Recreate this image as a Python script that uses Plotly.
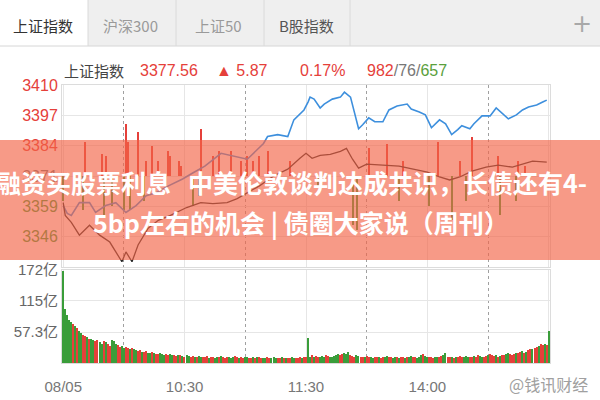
import plotly.graph_objects as go

# ---------------- data ----------------
PREV_CLOSE = 3371.69          # 昨收
LAST = 3377.56
CHANGE = 5.87
CHANGE_PCT = "0.17%"
ADV, FLAT, DEC = 982, 76, 657

tabs = ["上证指数", "沪深300", "上证50", "B股指数"]

# minute index: 0 = 09:30 ... 120 = 11:30/13:00 ... 240 = 15:00
x_ticks = [0, 60, 120, 180, 240]
x_ticktext = ["08/05", "10:30", "11:30", "14:00", ""]
x_minor = [30, 90, 150, 210]

# 上证指数 (dark line)
index_min = [0, 1, 4, 8, 13, 18, 23, 26, 29, 31, 34, 37, 42, 47, 53, 61, 68, 74, 81, 86,
             91, 97, 104, 111, 117, 120, 123, 127, 132, 137, 140, 143, 146, 150, 158, 166,
             173, 180, 186, 191, 196, 202, 209, 215, 222, 229, 232, 239]
index_val = [3360.37, 3354.92, 3351.99, 3346.54, 3350.73, 3346.54, 3343.60, 3339.41, 3335.22,
             3339.41, 3335.22, 3342.35, 3349.47, 3352.83, 3354.92, 3358.28, 3360.37, 3359.95,
             3360.37, 3362.05, 3364.56, 3367.50, 3371.69, 3374.62, 3379.24, 3381.33, 3379.24,
             3380.49, 3380.91, 3382.17, 3383.43, 3378.82, 3375.04, 3376.72, 3376.30, 3375.88,
             3374.62, 3373.37, 3371.27, 3370.01, 3371.27, 3373.79, 3375.46, 3376.30, 3375.46,
             3377.14, 3377.98, 3377.56]

# blue line
blue_min = [0, 2, 4, 8, 13, 16, 21, 26, 31, 36, 41, 46, 52, 59, 64, 70, 78, 85, 91, 99,
            101, 106, 111, 114, 117, 119, 121, 122, 124, 127, 129, 133, 137, 139, 142, 144,
            146, 148, 151, 154, 158, 161, 165, 170, 172, 176, 179, 182, 186, 189, 192, 195,
            197, 201, 203, 207, 211, 214, 218, 220, 224, 227, 230, 234, 237, 239]
blue_val = [3359.11, 3355.76, 3354.92, 3360.37, 3360.37, 3356.18, 3359.11, 3360.37, 3356.18,
            3359.11, 3363.31, 3364.56, 3367.50, 3370.43, 3372.95, 3375.88, 3381.33, 3380.07,
            3378.82, 3385.52, 3388.46, 3389.30, 3388.46, 3395.58, 3398.10, 3399.78, 3403.13,
            3405.23, 3404.39, 3400.61, 3402.29, 3404.39, 3405.23, 3407.32, 3405.23, 3398.10,
            3391.81, 3393.49, 3396.42, 3394.75, 3394.75, 3399.78, 3401.45, 3402.29, 3400.20,
            3398.94, 3397.68, 3392.23, 3395.58, 3393.91, 3389.30, 3391.39, 3393.07, 3391.81,
            3393.91, 3397.26, 3397.26, 3400.61, 3397.68, 3396.00, 3397.68, 3399.78, 3401.03,
            3401.87, 3403.13, 3403.97]

# red / green strength bars in the price pane (offset from previous close)
red_min = [11, 19, 21, 31, 32, 37, 41, 44, 47, 52, 53, 57, 58, 68, 74, 77, 83, 88, 91, 94,
           97, 101, 112, 151, 160, 168, 185, 196, 202, 215, 225, 228]
red_len = [14.67, 9.22, 8.38, 22.22, 14.67, 18.86, 6.29, 12.58, 6.29, 10.48, 8.38, 6.29, 4.19,
           20.12, 8.38, 10.48, 10.48, 6.29, 8.38, 6.29, 8.38, 10.48, 6.29, 11.74, 13.41, 6.29,
           14.67, 6.29, 16.77, 8.38, 6.29, 4.19]
green_min = [0, 10, 20, 24, 30, 33, 40, 64, 67, 126, 143, 145, 166, 181, 192, 199, 216, 224]
green_len = [10.48, 14.67, 16.77, 12.58, 14.67, 14.67, 10.48, 12.58, 8.38, 4.19, 20.96, 23.06,
             10.48, 12.58, 18.86, 10.48, 16.77, 10.48]

# volume (亿), one bar per minute
volume = ([170, 100, 88, 80, 76, 72, 68, 64, 60, 55, 52, 50, 48, 45, 44, 42, 40, 42, 38, 36,
           40, 38, 35, 32, 42, 40, 36, 33, 30, 32, 28]
          + [30, 27, 26, 28, 25, 24, 22, 24, 21, 20, 22, 19, 18, 20, 18, 17, 16, 18,
             16, 15, 17, 14, 16, 15, 14, 13, 15, 14, 13, 12, 14, 13, 12, 13, 12, 11, 13, 12]
          + [12, 11, 13, 10, 12, 11, 10, 12, 11, 13, 12, 10, 11, 12, 10, 11, 13, 12, 10, 11,
             10, 12, 11, 10, 9, 11, 10, 12, 11, 10, 9, 10, 11, 10, 9, 11, 10, 9, 10, 11,
             10, 9, 10, 9, 11, 10, 9, 10, 11, 10, 12, 11]
          + [47, 12, 14, 11, 13, 12, 11, 13, 12, 14, 13, 12, 11, 13, 15, 16, 14, 17, 18, 16, 20,
             15, 13, 12, 14, 13, 12, 11, 12, 13, 11, 12, 10, 11, 12, 11, 10, 12, 11, 13]
          + [12, 11, 10, 12, 11, 10, 11, 12, 10, 11, 12, 13, 12, 11, 10, 12, 14, 16, 13, 12,
             11, 12, 10, 11, 12, 11, 13, 14, 18, 12, 11, 12, 10, 11, 12, 13, 11, 12, 13, 12]
          + [11, 12, 13, 12, 14, 13, 12, 11, 13, 14, 16, 15, 13, 14, 12, 13, 15, 14, 16, 18,
             16, 15, 17, 19, 18, 20, 22, 19, 21, 24, 26, 25, 28, 30, 32, 35, 33, 36, 34, 60])
volume_side = ("gggggrgrgg" "rrgrggrrgg" "rgrrgggrrg" "grrgrggrrg" "rrggrgrrgg"
               "grrggrrgrg" "rggrrgrggr" "rrgrrggrgr" "rrgggrrgrr" "ggrrgrgrrg"
               "grrgggrrgr" "grrggrrrgr" "rggrgrrggg" "rrgggggrrg" "ggrrrggrrg"
               "rrggrrgrrg" "grrggrgrrg" "rggrrgggrg" "grrrggrrgg" "rrgrgrrrgg"
               "grrgrrggrr" "grrrgrgrrg" "grrrgrrgrg" "rrgrrgrrgr" "g")

vol_ticks = [0, 57.3, 115, 172]
vol_ticktext = ["", "57.3亿", "115亿", "172亿"]

title_line1 = "融资买股票利息\u00a0\u00a0\u00a0中美伦敦谈判达成共识，长债还有4-"
title_line2 = "5bp左右的机会 | 债圈大家说（周刊）"
watermark = "@钱讯财经"

# ---------------- styling ----------------
RED = "#e5403a"
GREEN = "#3a9d3a"
GRAY = "#777777"
NUM_FONT = "Liberation Sans, Arial, Noto Sans CJK SC, sans-serif"
CJK_FONT = "Noto Sans CJK SC, Noto Sans, sans-serif"

W, H = 600, 400
def px(x):
    return x / W
def py(y):
    return 1 - y / H

# price axis: symmetric around previous close
step_pct = [1.145, 0.763, 0.382, 0.0, -0.382, -0.763, -1.145]
price_ticks = [PREV_CLOSE * (1 + p / 100) for p in step_pct]
price_range = [price_ticks[-1] - 0.1, price_ticks[0] + 0.1]
pct_range = [(r - PREV_CLOSE) / PREV_CLOSE * 100 for r in price_range]

def col(t, c):
    return f'<span style="color:{c}">{t}</span>'

price_ticktext = [col("3410", RED), col("3397", RED), col("3384", RED), col("3371", GRAY),
                  col("3359", GREEN), col("3346", GREEN), ""]
pct_ticktext = [col("1.1%", RED), col("0.7%", RED), col("0.4%", RED), col("0.0%", GRAY),
                col("0.4%", GREEN), col("0.7%", GREEN), ""]

fig = go.Figure()

fig.add_trace(go.Bar(x=red_min, y=red_len, base=PREV_CLOSE, width=0.5,
                     marker=dict(color=RED, line=dict(width=0)), xaxis="x", yaxis="y"))
fig.add_trace(go.Bar(x=green_min, y=[-v for v in green_len], base=PREV_CLOSE, width=0.5,
                     marker=dict(color=GREEN, line=dict(width=0)), xaxis="x", yaxis="y"))
fig.add_trace(go.Scatter(x=blue_min, y=blue_val, mode="lines",
                         line=dict(color="#3d8fdd", width=1.6), xaxis="x", yaxis="y"))
fig.add_trace(go.Scatter(x=index_min, y=index_val, mode="lines",
                         line=dict(color="#262626", width=1.3), xaxis="x", yaxis="y"))
fig.add_trace(go.Bar(x=list(range(len(volume))), y=volume, width=0.62,
                     marker=dict(color=[RED if s == "r" else GREEN for s in volume_side],
                                 line=dict(width=0)),
                     xaxis="x2", yaxis="y3"))

xcommon = dict(range=[-0.6, 240.6], tickvals=x_ticks, showgrid=True, gridcolor="#e6e6e6",
               gridwidth=1, zeroline=False, showline=True, linecolor="#dcdcdc", mirror=True,
               minor=dict(tickvals=x_minor, showgrid=True, gridcolor="#a0a0a0",
                          griddash="dot", gridwidth=1),
               domain=[px(62), px(550)], fixedrange=True)

fig.update_layout(
    width=W, height=H, margin=dict(l=0, r=0, t=0, b=0, autoexpand=False),
    paper_bgcolor="white", plot_bgcolor="white", showlegend=False, barmode="overlay",
    bargap=0,
    xaxis=dict(**xcommon, anchor="y", showticklabels=False),
    xaxis2=dict(**xcommon, anchor="y3", ticktext=x_ticktext, ticks="outside", ticklen=10,
                tickcolor="rgba(0,0,0,0)", tickfont=dict(family=NUM_FONT, size=15, color=GRAY)),
    yaxis=dict(domain=[py(267), py(85)], range=price_range, tickvals=price_ticks,
               ticktext=price_ticktext, showgrid=True, gridcolor="#e6e6e6", zeroline=False,
               showline=True, linecolor="#dcdcdc", mirror=True, anchor="x",
               tickfont=dict(family=NUM_FONT, size=16), ticks="", fixedrange=True),
    yaxis2=dict(overlaying="y", side="right", range=pct_range, tickvals=step_pct,
                ticktext=pct_ticktext, showgrid=False, zeroline=False, anchor="x",
                tickfont=dict(family=NUM_FONT, size=15), ticks="", fixedrange=True),
    yaxis3=dict(domain=[py(363), py(270)], range=[0, 172], tickvals=vol_ticks,
                ticktext=vol_ticktext, showgrid=True, gridcolor="#e6e6e6", zeroline=False,
                showline=True, linecolor="#dcdcdc", mirror=True, anchor="x2",
                tickfont=dict(family=NUM_FONT, size=15, color="#666666"), ticks="",
                fixedrange=True),
)

shapes = [
    dict(type="rect", xref="paper", yref="paper", x0=0, x1=1, y0=py(46), y1=1,
         fillcolor="#efefef", line=dict(width=0), layer="below"),
    dict(type="rect", xref="paper", yref="paper", x0=0, x1=px(88), y0=py(46), y1=1,
         fillcolor="#ffffff", line=dict(width=0), layer="below"),
    dict(type="line", xref="paper", yref="paper", x0=0, x1=1, y0=py(46), y1=py(46),
         line=dict(color="#d6d6d6", width=1), layer="below"),
]
for sx in [88, 176, 264, 350]:
    shapes.append(dict(type="line", xref="paper", yref="paper", x0=px(sx), x1=px(sx),
                       y0=py(46), y1=1, line=dict(color="#dadada", width=1), layer="below"))
shapes.append(dict(type="rect", xref="paper", yref="paper", x0=0, x1=1, y0=py(260), y1=py(140),
                   fillcolor="rgba(242,100,70,0.65)", line=dict(width=0), layer="above"))
fig.update_layout(shapes=shapes)

ann = []
def add(text, x, y, size, color, family=CJK_FONT, xanchor="center", bold=False):
    if bold:
        text = f"<b>{text}</b>"
    ann.append(dict(text=text, x=px(x), y=py(y), xref="paper", yref="paper",
                    showarrow=False, xanchor=xanchor, yanchor="middle",
                    font=dict(family=family, size=size, color=color)))

tab_centers = [43, 130, 218, 306]
tab_colors = ["#333333", "#9a9a9a", "#9a9a9a", "#555555"]
for t, cx, c in zip(tabs, tab_centers, tab_colors):
    add(t, cx, 25, 15, c, family=CJK_FONT + ", " + NUM_FONT)
add("+", 582, 24, 24, "#a8a8a8", family="DejaVu Sans")

add("上证指数", 62, 70, 15, "#444444", xanchor="left")
add(f"{LAST:.2f}", 138, 70, 16, RED, family=NUM_FONT, xanchor="left")
add(f"▲ {CHANGE:.2f}", 214, 70, 16, RED, family=NUM_FONT, xanchor="left")
add(CHANGE_PCT, 298, 70, 16, RED, family=NUM_FONT, xanchor="left")
add(col(str(ADV), RED) + col(f"/{FLAT}/", "#777777") + col(str(DEC), "#5aa03c"),
    365, 70, 16, RED, family=NUM_FONT, xanchor="left")

add(title_line1, -6, 182, 25, "white", xanchor="left", bold=True)
add(title_line2, 301, 222, 25, "white", bold=True)

add(watermark, 548, 384, 16, "#a0a0a0")

fig.update_layout(annotations=ann)

fig.write_html("out.html", config={"displayModeBar": False},
               post_script="document.body.style.margin='0';")
